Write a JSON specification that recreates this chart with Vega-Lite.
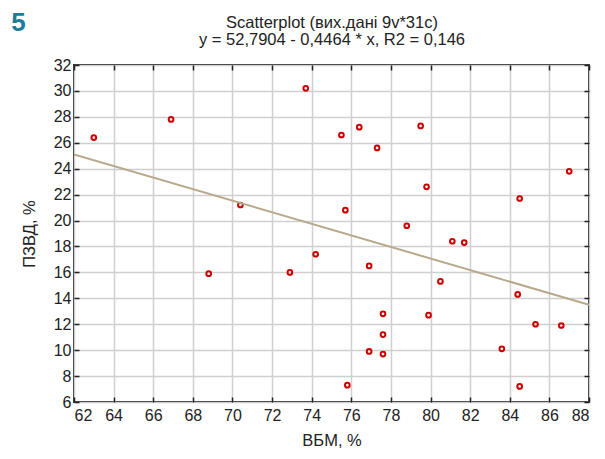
{
  "$schema": "https://vega.github.io/schema/vega-lite/v6.json",
  "width": 515,
  "height": 337,
  "autosize": {"type": "none"},
  "padding": {"left": 74, "top": 65, "right": 16, "bottom": 57},
  "background": "white",
  "title": {
    "text": "5",
    "anchor": "start",
    "frame": "bounds",
    "font": "Liberation Sans",
    "fontSize": 26,
    "fontWeight": "bold",
    "color": "#1b7d99",
    "dx": -10,
    "dy": 22,
    "offset": 0
  },
  "datasets": {
    "pts": [
      {"x": 63.0, "y": 26.4}, {"x": 66.9, "y": 27.8}, {"x": 68.8, "y": 15.9},
      {"x": 70.4, "y": 21.2}, {"x": 72.9, "y": 16.0}, {"x": 73.7, "y": 30.2},
      {"x": 74.2, "y": 17.4}, {"x": 75.5, "y": 26.6}, {"x": 76.4, "y": 27.2},
      {"x": 77.3, "y": 25.6}, {"x": 79.5, "y": 27.3}, {"x": 87.0, "y": 23.8},
      {"x": 79.8, "y": 22.6}, {"x": 84.5, "y": 21.7}, {"x": 75.7, "y": 20.8},
      {"x": 78.8, "y": 19.6}, {"x": 81.1, "y": 18.4}, {"x": 81.7, "y": 18.3},
      {"x": 76.9, "y": 16.5}, {"x": 80.5, "y": 15.3}, {"x": 84.4, "y": 14.3},
      {"x": 77.6, "y": 12.8}, {"x": 79.9, "y": 12.7}, {"x": 85.3, "y": 12.0},
      {"x": 86.6, "y": 11.9}, {"x": 77.6, "y": 11.2}, {"x": 83.6, "y": 10.1},
      {"x": 76.9, "y": 9.9}, {"x": 77.6, "y": 9.7}, {"x": 75.8, "y": 7.3},
      {"x": 84.5, "y": 7.2}
    ],
    "fit": [
      {"x": 62, "y": 25.1},
      {"x": 88, "y": 13.5}
    ]
  },
  "config": {
    "view": {"stroke": "#222222", "strokeWidth": 2},
    "axis": {
      "labelFont": "Liberation Sans",
      "titleFont": "Liberation Sans",
      "labelFontSize": 16,
      "titleFontSize": 16.5,
      "titleFontWeight": "normal",
      "labelColor": "#222222",
      "titleColor": "#222222",
      "domain": false,
      "tickColor": "#222222",
      "tickWidth": 1.5,
      "gridColor": "#d0d0d0",
      "gridWidth": 1.5
    }
  },
  "layer": [
    {
      "data": {"name": "pts"},
      "mark": {"type": "point", "shape": "circle", "filled": false, "stroke": "#cc0000", "strokeWidth": 2, "size": 22, "opacity": 1},
      "encoding": {
        "x": {
          "field": "x", "type": "quantitative",
          "scale": {"domain": [62, 88], "nice": false, "zero": false},
          "axis": {
            "orient": "bottom",
            "title": "ВБМ, %",
            "values": [62,64,66,68,70,72,74,76,78,80,82,84,86,88],
            "grid": true,
            "tickSize": -5,
            "labelPadding": 10,
            "titlePadding": 9
          }
        },
        "y": {
          "field": "y", "type": "quantitative",
          "scale": {"domain": [6, 32], "nice": false, "zero": false},
          "axis": {
            "orient": "left",
            "title": "ПЗВД, %",
            "values": [6,8,10,12,14,16,18,20,22,24,26,28,30,32],
            "grid": true,
            "tickSize": -5,
            "labelPadding": 8,
            "titlePadding": 16
          }
        }
      }
    },
    {
      "data": {"name": "fit"},
      "mark": {"type": "line", "color": "#b8a88c", "strokeWidth": 2, "clip": true},
      "encoding": {
        "x": {
          "field": "x", "type": "quantitative",
          "scale": {"domain": [62, 88], "nice": false, "zero": false},
          "axis": {
            "orient": "top",
            "labels": false,
            "grid": false,
            "values": [62,64,66,68,70,72,74,76,78,80,82,84,86,88],
            "tickSize": -5,
            "title": ["Scatterplot (вих.дані 9v*31c)", "y = 52,7904 - 0,4464 * x, R2 = 0,146"],
            "titleFontSize": 16.5,
            "titleLineHeight": 17,
            "titlePadding": 17
          }
        },
        "y": {
          "field": "y", "type": "quantitative",
          "scale": {"domain": [6, 32], "nice": false, "zero": false},
          "axis": {
            "orient": "right",
            "labels": false,
            "grid": false,
            "title": null,
            "values": [6,8,10,12,14,16,18,20,22,24,26,28,30,32],
            "tickSize": -5
          }
        }
      }
    }
  ],
  "resolve": {"axis": {"x": "independent", "y": "independent"}}
}
